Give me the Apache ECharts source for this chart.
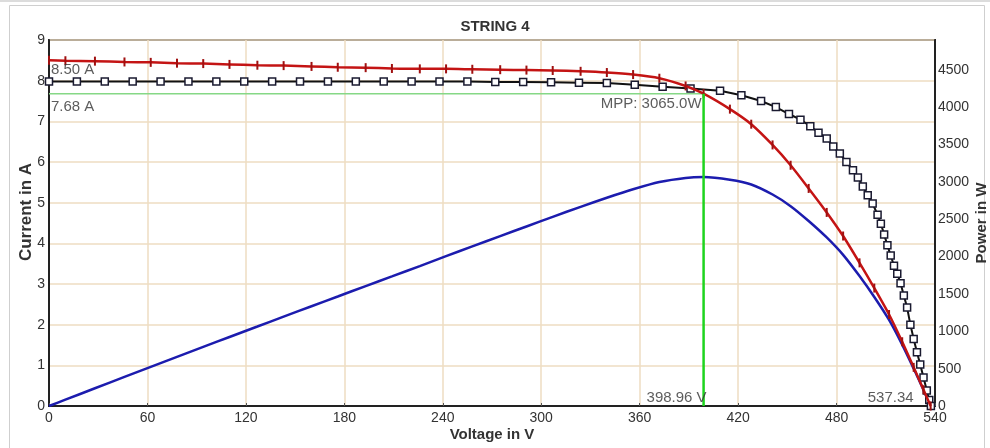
<!DOCTYPE html>
<html>
<head>
<meta charset="utf-8">
<title>STRING 4</title>
<script src="https://cdn.jsdelivr.net/npm/echarts@6/dist/echarts.min.js"></script>
<style>
  html, body { margin: 0; padding: 0; background: #ffffff; }
  #chart { width: 990px; height: 448px; }
</style>
</head>
<body>
<div id="chart"></div>
<script>
// Measured I-V curve of the string (voltage in V, current in A)
const vMeas = [0, 10, 28, 46, 62, 78, 94, 110, 127, 143, 160, 176, 193, 209, 226, 242, 258, 275, 291, 307,
               324, 340, 356, 372, 388, 398.96, 415, 428, 441, 452, 463, 474, 484, 494, 503, 512, 520, 527, 533, 537.34];
const iMeas = [8.50, 8.49, 8.48, 8.46, 8.45, 8.43, 8.42, 8.40, 8.38, 8.37, 8.35, 8.33, 8.32, 8.30, 8.29, 8.29, 8.28, 8.27, 8.26, 8.25,
               8.23, 8.20, 8.15, 8.06, 7.87, 7.68, 7.30, 6.93, 6.42, 5.92, 5.35, 4.76, 4.18, 3.52, 2.90, 2.25, 1.58, 0.95, 0.40, 0];
// Measured power curve at the same voltages (W)
const pMeas = [0, 84.9, 237.4, 389.2, 523.9, 657.5, 791.5, 924.0, 1064.3, 1196.9, 1336.0, 1466.1, 1605.8, 1734.7, 1873.5, 2006.2, 2136.2, 2274.3, 2403.7, 2532.8,
               2666.5, 2788.0, 2901.4, 2998.3, 3053.6, 3065.0, 3029.5, 2966.0, 2831.2, 2675.8, 2477.1, 2256.2, 2023.1, 1738.9, 1458.7, 1152.0, 821.6, 500.7, 213.2, 0];

// Nominal (expected) I-V curve
const vNom = [0, 17, 34, 51, 68, 85, 102, 119, 136, 153, 170, 187, 204, 221, 238, 255, 272, 289, 306, 323,
              340, 357, 374, 391, 409, 422, 434, 443, 451, 458, 464, 469, 474, 478, 482, 486, 490, 493, 496, 499,
              502, 505, 507, 509, 511, 513, 515, 517, 519, 521, 523, 525, 527, 529, 531, 533, 535, 536.5, 537.5];
const iNom = [7.98, 7.98, 7.98, 7.98, 7.98, 7.98, 7.98, 7.98, 7.98, 7.98, 7.98, 7.98, 7.98, 7.98, 7.98, 7.98, 7.97, 7.97, 7.96, 7.95,
              7.94, 7.90, 7.85, 7.81, 7.75, 7.64, 7.50, 7.35, 7.18, 7.04, 6.88, 6.72, 6.58, 6.38, 6.21, 6.00, 5.80, 5.62, 5.40, 5.18,
              4.98, 4.70, 4.48, 4.22, 3.95, 3.70, 3.45, 3.25, 3.02, 2.72, 2.42, 2.00, 1.65, 1.32, 1.02, 0.70, 0.38, 0.15, 0];

// Key points
const iSc = 8.50;
const vMpp = 398.96;
const iMpp = 7.68;
const pMpp = 3065.0;
const vOc = 537.34;

// Axis ranges
const xMax = 540, xStep = 60;
const iMax = 9, iStep = 1;
const pMax = 4900, pStep = 500;

const FONT = '"Liberation Sans", Arial, sans-serif';
const TXT = '#333333';

const pairs = (xs, ys) => xs.map((x, k) => [x, ys[k]]);

const chart = echarts.init(document.getElementById('chart'), null, { renderer: 'canvas' });

const noteLabel = (pos, align) => ({
  show: true, position: pos, align: align, verticalAlign: 'middle',
  fontFamily: FONT, fontSize: 15, color: TXT
});

chart.setOption({
  animation: false,
  backgroundColor: '#ffffff',
  title: {
    text: 'STRING 4',
    left: 'center', top: 14,
    textStyle: { fontFamily: FONT, fontSize: 15, fontWeight: 'bold', color: '#333' }
  },
  graphic: [
    { type: 'rect', z: -10, shape: { x: 0, y: 0, width: 990, height: 2 }, style: { fill: '#dcdcdc' } },
    { type: 'rect', z: -10, shape: { x: 9.5, y: 5.5, width: 975, height: 470 }, style: { fill: 'none', stroke: '#cfcfcf', lineWidth: 1 } }
  ],
  grid: {
    left: 49, right: 55, top: 40, bottom: 42,
    outerBoundsMode: 'none', containLabel: false,
    show: true, borderColor: '#222', borderWidth: 2, backgroundColor: '#ffffff'
  },
  xAxis: {
    type: 'value', min: 0, max: xMax, interval: xStep,
    name: 'Voltage in V', nameLocation: 'middle', nameGap: 21, nameMoveOverlap: false,
    nameTextStyle: { fontFamily: FONT, fontSize: 15, fontWeight: 'bold', color: TXT },
    axisLine: { show: true, lineStyle: { color: '#222', width: 2 } },
    axisTick: { show: true, inside: true, length: 3, lineStyle: { color: '#555' } },
    axisLabel: { fontFamily: FONT, fontSize: 14, color: TXT, margin: 5 },
    splitLine: { show: true, lineStyle: { color: '#eedcc2', width: 1.5 } }
  },
  yAxis: [
    {
      type: 'value', min: 0, max: iMax, interval: iStep, position: 'left',
      name: 'Current in A', nameLocation: 'middle', nameGap: 14, nameRotate: 90, nameMoveOverlap: false,
      nameTextStyle: { fontFamily: FONT, fontSize: 17, fontWeight: 'bold', color: TXT, padding: [0, 0, 0, 22] },
      axisLine: { show: true, lineStyle: { color: '#222', width: 2 } },
      axisTick: { show: false },
      axisLabel: { fontFamily: FONT, fontSize: 14, color: TXT, margin: 4 },
      splitLine: { show: true, lineStyle: { color: '#eedcc2', width: 1.5 } }
    },
    {
      type: 'value', min: 0, max: pMax, interval: pStep, position: 'right',
      name: 'Power in W', nameLocation: 'middle', nameGap: 39, nameRotate: 90, nameMoveOverlap: false,
      nameTextStyle: { fontFamily: FONT, fontSize: 15, fontWeight: 'bold', color: TXT },
      axisLine: { show: true, lineStyle: { color: '#222', width: 2 } },
      axisTick: { show: false },
      axisLabel: { fontFamily: FONT, fontSize: 14, color: TXT, margin: 3, showMaxLabel: false, formatter: (v) => String(v) },
      splitLine: { show: false }
    }
  ],
  series: [
    {
      name: 'Power', type: 'line', yAxisIndex: 1,
      data: pairs(vMeas, pMeas),
      smooth: 0.25, showSymbol: false,
      lineStyle: { color: '#1c1cae', width: 2.5 }, z: 3
    },
    {
      name: 'Nominal current', type: 'line', yAxisIndex: 0,
      data: pairs(vNom, iNom),
      symbol: 'rect', symbolSize: 7, showAllSymbol: true,
      lineStyle: { color: '#111111', width: 2 },
      itemStyle: { color: '#ffffff', borderColor: '#1a1a30', borderWidth: 1.5 }, z: 4
    },
    {
      name: 'Measured current', type: 'line', yAxisIndex: 0,
      data: pairs(vMeas, iMeas),
      smooth: 0.25,
      symbol: 'rect', symbolSize: [2, 9], showAllSymbol: true,
      lineStyle: { color: '#c41414', width: 2.5 },
      itemStyle: { color: '#a01010' }, z: 5
    },
    {
      name: 'MPP current', type: 'line', yAxisIndex: 0,
      data: [[0, iMpp], [vMpp, iMpp]], showSymbol: false,
      lineStyle: { color: '#86d886', width: 1.5 }, z: 2
    },
    {
      name: 'MPP voltage', type: 'line', yAxisIndex: 0,
      data: [[vMpp, iMpp], [vMpp, 0]], showSymbol: false,
      lineStyle: { color: '#1ed41e', width: 2.5 }, z: 6
    },
    {
      name: 'Notes', type: 'scatter', yAxisIndex: 0, symbolSize: 0, silent: true, z: 8,
      data: [
        { value: [0, iSc], label: Object.assign(noteLabel([2, 10], 'left'), { formatter: iSc.toFixed(2) + ' A' }) },
        { value: [0, iMpp], label: Object.assign(noteLabel([2, 13], 'left'), { formatter: iMpp.toFixed(2) + ' A' }) },
        { value: [vMpp, iMpp], label: Object.assign(noteLabel([-2, 10], 'right'), { formatter: 'MPP: ' + pMpp.toFixed(1) + 'W' }) },
        { value: [vMpp, 0], label: Object.assign(noteLabel([3, -8], 'right'), { formatter: vMpp.toFixed(2) + ' V' }) },
        { value: [vOc, 0], label: Object.assign(noteLabel([-17, -8], 'right'), { formatter: vOc.toFixed(2) }) }
      ]
    }
  ]
});
</script>
</body>
</html>
